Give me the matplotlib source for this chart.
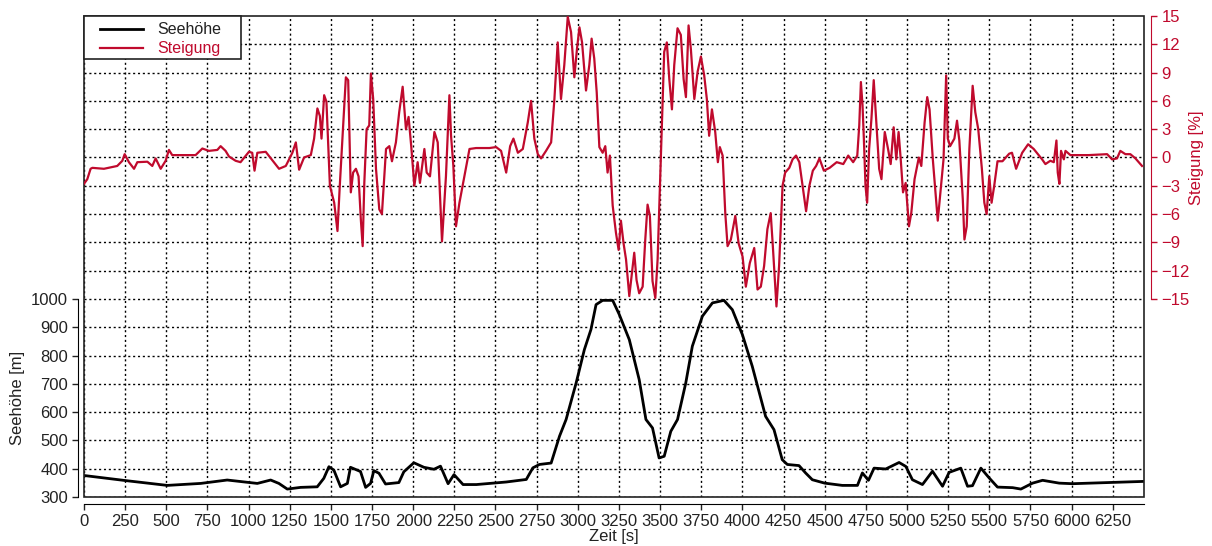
import numpy as np
import matplotlib
matplotlib.use("Agg")
import matplotlib.pyplot as plt
from matplotlib.patches import Rectangle
from matplotlib.lines import Line2D

plt.rcParams['font.family'] = ['Liberation Sans', 'DejaVu Sans']

# Seehöhe ueber der Zeit
t_hoehe = [0, 253, 506, 709, 870, 992, 1053, 1134, 1184, 1235, 1316, 1417, 1457, 1488,
           1518, 1559, 1600, 1619, 1680, 1711, 1741, 1761, 1792, 1832, 1913, 1943, 2004,
           2065, 2126, 2166, 2212, 2248, 2303, 2384, 2565, 2687, 2727, 2767, 2838, 2889,
           2929, 2990, 3040, 3080, 3111, 3151, 3212, 3252, 3313, 3373, 3414, 3454, 3494,
           3525, 3565, 3606, 3656, 3696, 3757, 3818, 3888, 3939, 4000, 4060, 4141, 4192,
           4242, 4273, 4344, 4384, 4425, 4500, 4607, 4699, 4729, 4766, 4800, 4871, 4952,
           4993, 5033, 5094, 5155, 5216, 5256, 5327, 5368, 5398, 5449, 5500, 5550, 5642,
           5692, 5763, 5824, 5925, 6006, 6432]
hoehe = [376, 358, 341, 348, 360, 352, 348, 360, 348, 328, 334, 336, 366, 407,
         395, 336, 348, 405, 390, 334, 348, 393, 384, 346, 351, 389, 421,
         405, 398, 409, 347, 379, 344, 344, 353, 362, 403, 415, 420, 515,
         574, 703, 821, 892, 980, 995, 995, 945, 856, 715, 574, 544, 438,
         444, 532, 574, 703, 833, 939, 986, 995, 962, 874, 762, 585, 538,
         432, 415, 411, 385, 361, 349, 341, 341, 385, 359, 402, 399, 422,
         408, 361, 344, 391, 338, 387, 402, 338, 340, 402, 367, 335, 333,
         328, 349, 359, 349, 347, 355]

# Steigung ueber der Zeit
t_steig = [0, 20, 40, 51, 121, 202, 233, 247, 273, 304, 324, 385, 415, 435, 466, 496,
           516, 536, 607, 678, 719, 759, 810, 830, 860, 881, 921, 951, 1002, 1022, 1036,
           1053, 1104, 1185, 1226, 1266, 1287, 1307, 1337, 1378, 1398, 1418, 1433, 1443,
           1459, 1473, 1494, 1520, 1540, 1554, 1571, 1591, 1605, 1621, 1635, 1652, 1668,
           1682, 1693, 1703, 1717, 1733, 1743, 1757, 1774, 1794, 1810, 1835, 1855, 1871,
           1895, 1915, 1936, 1956, 1972, 1988, 2007, 2027, 2041, 2068, 2082, 2102, 2129,
           2149, 2175, 2199, 2220, 2230, 2244, 2260, 2281, 2311, 2342, 2382, 2463, 2504,
           2534, 2565, 2589, 2609, 2636, 2666, 2696, 2716, 2736, 2757, 2777, 2807, 2838,
           2858, 2878, 2898, 2918, 2939, 2959, 2979, 2995, 3010, 3026, 3050, 3070, 3084,
           3100, 3115, 3131, 3151, 3167, 3181, 3195, 3212, 3232, 3248, 3262, 3278, 3293,
           3313, 3329, 3343, 3357, 3373, 3394, 3410, 3424, 3438, 3454, 3471, 3485, 3505,
           3525, 3541, 3556, 3572, 3586, 3606, 3626, 3643, 3657, 3673, 3687, 3708, 3728,
           3748, 3768, 3784, 3798, 3815, 3835, 3851, 3863, 3880, 3896, 3910, 3930, 3957,
           3977, 4001, 4021, 4045, 4072, 4092, 4112, 4132, 4152, 4172, 4185, 4207, 4223,
           4244, 4260, 4285, 4305, 4326, 4346, 4366, 4387, 4407, 4428, 4448, 4468, 4495,
           4530, 4573, 4613, 4643, 4673, 4698, 4710, 4720, 4730, 4738, 4748, 4758, 4770,
           4784, 4798, 4815, 4831, 4845, 4865, 4885, 4901, 4919, 4935, 4949, 4962, 4976,
           4992, 5012, 5026, 5046, 5072, 5087, 5107, 5123, 5137, 5157, 5173, 5187, 5203,
           5222, 5238, 5248, 5262, 5288, 5304, 5318, 5339, 5349, 5363, 5379, 5399, 5415,
           5433, 5455, 5470, 5484, 5500, 5514, 5530, 5550, 5580, 5621, 5638, 5663, 5700,
           5736, 5770, 5821, 5841, 5871, 5892, 5908, 5916, 5926, 5936, 5953, 5963, 5993,
           6104, 6216, 6246, 6276, 6296, 6327, 6357, 6388, 6428]
steigung = [-2.8, -2.3, -1.2, -1.1, -1.2, -0.9, -0.35, 0.35, -0.5, -1.2, -0.5, -0.45, -0.9, -0.1, -1.2, -0.35,
            0.8, 0.25, 0.25, 0.25, 0.95, 0.7, 0.8, 1.2, 0.7, 0.1, -0.35, -0.5, 0.6, 0.5, -1.4,
            0.5, 0.6, -1.2, -0.9, 0.5, 1.6, -1.3, 0.0, 0.25, 2.0, 5.2, 4.4, 2.0,
            6.6, 5.9, -3.0, -4.8, -7.8, -3.0, 2.3, 8.5, 8.2, -3.7, -1.6, -1.2, -2.0,
            -6.6, -9.4, -2.7, 3.0, 3.4, 8.9, 6.2, -1.2, -5.5, -6.0, 0.9, 1.2, -0.4,
            1.6, 4.8, 7.5, 3.0, 4.3, 1.2, -3.0, -0.5, -2.7, 0.9, -1.6, -2.0, 2.7,
            1.6, -8.9, -2.0, 6.6, 2.3, -0.9, -7.3, -4.8, -2.0, 0.9, 1.0, 1.0, 1.1,
            0.7, -1.6, 1.2, 2.0, 0.5, 0.9, 3.7, 6.0, 2.0, 0.35, -0.1, 0.7, 1.6,
            6.2, 12.2, 6.2, 9.8, 14.9, 13.3, 8.5, 11.5, 13.8, 12.2, 7.1, 9.8, 12.6,
            10.5, 6.9, 1.1, 0.5, 1.2, -1.6, 0.2, -5.1, -8.0, -9.8, -6.7, -9.1, -10.8,
            -14.7, -12.2, -10.1, -13.0, -14.4, -13.7, -8.7, -5.0, -6.2, -13.1, -14.9, -10.8, 0.2,
            11.2, 12.2, 8.3, 5.1, 9.8, 13.7, 13.0, 8.3, 6.4, 14.0, 11.5, 6.2, 9.1,
            10.7, 8.7, 6.2, 2.3, 5.1, 2.7, -0.5, 1.1, 0.2, -5.9, -9.4, -8.7, -6.2,
            -9.1, -10.5, -13.7, -11.2, -9.6, -14.0, -13.7, -11.5, -7.6, -5.9, -9.4, -15.8, -11.5,
            -3.0, -1.6, -1.1, -0.2, 0.2, -0.5, -3.0, -5.7, -3.0, -1.4, -0.9, -0.1, -1.4,
            -1.1, -0.5, -0.7, 0.2, -0.5, 0.2, 3.4, 8.0, 5.5, 2.0, -3.0, -4.8, 0.9,
            4.1, 8.2, 3.4, -1.2, -2.3, 2.7, 0.9, -0.7, 3.2, -0.2, 2.7, -0.2, -3.7,
            -2.7, -7.3, -5.9, -2.3, 0.0, -0.9, 3.7, 6.4, 5.1, -0.2, -3.7, -6.7, -3.7,
            -0.2, 8.7, 2.0, 1.2, 2.0, 3.9, 1.8, -4.4, -8.7, -7.3, 0.9, 7.6, 4.8,
            3.0, -1.2, -4.8, -6.0, -2.0, -4.8, -3.0, -0.4, -0.4, 0.4, 0.5, -1.2, 0.5,
            1.4, 0.9, -0.2, -0.7, -0.35, -0.5, 1.8, -1.6, -2.8, 0.7, -0.2, 0.7, 0.25,
            0.25, 0.35, -0.2, -0.1, 0.7, 0.35, 0.35, -0.1, -0.9]

rot = '#c00a2d'
dunkel = '#222222'

fig = plt.figure(figsize=(12.12, 5.46), dpi=100)
ax = fig.add_axes([84 / 1212, 49 / 546, 1060 / 1212, 481 / 546])
ax2 = ax.twinx()

ax.plot(t_hoehe, hoehe, color='black', lw=2.0)
ax2.plot(t_steig, steigung, color=rot, lw=1.6)

ax.set_xlim(0, 6440)
ax.set_ylim(300, 2000)
ax2.set_ylim(-36, 15)

ax.set_xticks(np.arange(0, 6251, 250))
ax.set_yticks(np.arange(300, 1001, 100))
ax.set_yticks(np.arange(1100, 2000, 100), minor=True)
ax2.set_yticks(np.arange(-15, 16, 3))

grid_kw = dict(color='black', lw=1.0, linestyle=(0, (1.5, 2.0)))
ax.grid(True, which='both', **grid_kw)
ax.tick_params(axis='y', which='minor', length=0)
ax.set_axisbelow(True)

# Rahmen um die Zeichenflaeche, Achsen nach aussen versetzt
for a in (ax, ax2):
    for s in a.spines.values():
        s.set_visible(False)
ax.add_patch(Rectangle((0, 0), 1, 1, transform=ax.transAxes, fill=False,
                       ec=dunkel, lw=1.2, clip_on=False, zorder=5))

ax.spines['left'].set_visible(True)
ax.spines['left'].set_position(('outward', 4))
ax.spines['left'].set_bounds(300, 1000)
ax.spines['bottom'].set_visible(True)
ax.spines['bottom'].set_position(('outward', 5))
ax2.spines['right'].set_visible(True)
ax2.spines['right'].set_position(('outward', 5))
ax2.spines['right'].set_bounds(-15, 15)
ax2.spines['right'].set_color(rot)

ax.tick_params(axis='both', which='major', labelsize=12, length=4, width=1, colors=dunkel)
ax2.tick_params(axis='y', labelsize=12, length=4, width=1, colors=rot)

ax.set_xlabel('Zeit [s]', fontsize=12, color=dunkel)
ax.xaxis.set_label_coords(0.5, -0.066)
ax.set_ylabel('Seehöhe [m]', fontsize=12, color=dunkel)
ax.yaxis.set_label_coords(-0.0557, 0.206)
ax2.set_ylabel('Steigung [%]', fontsize=12, color=rot)
ax2.yaxis.set_label_coords(1.0425, 0.706)

# Legende oben links
def ax_frac(px, py):
    return (px - 84) / 1060, (497 - py) / 481

x0, y0 = ax_frac(84, 59)
x1, y1 = ax_frac(241, 16)
ax2.add_patch(Rectangle((x0, y0), x1 - x0, y1 - y0, transform=ax2.transAxes,
                        fc='white', ec=dunkel, lw=1.2, clip_on=False, zorder=10))
for py, farbe, name, lw in [(29, 'black', 'Seehöhe', 2.0), (48, rot, 'Steigung', 1.6)]:
    lx0, ly = ax_frac(100, py)
    lx1, _ = ax_frac(143, py)
    ax2.add_line(Line2D([lx0, lx1], [ly, ly], transform=ax2.transAxes,
                        color=farbe, lw=lw, zorder=11))
    tx, _ = ax_frac(157, py)
    ax2.text(tx, ly, name, transform=ax2.transAxes, color=farbe if farbe != 'black' else dunkel,
             fontsize=11.5, va='center', ha='left', zorder=11)

fig.savefig('out.png', dpi=100)
